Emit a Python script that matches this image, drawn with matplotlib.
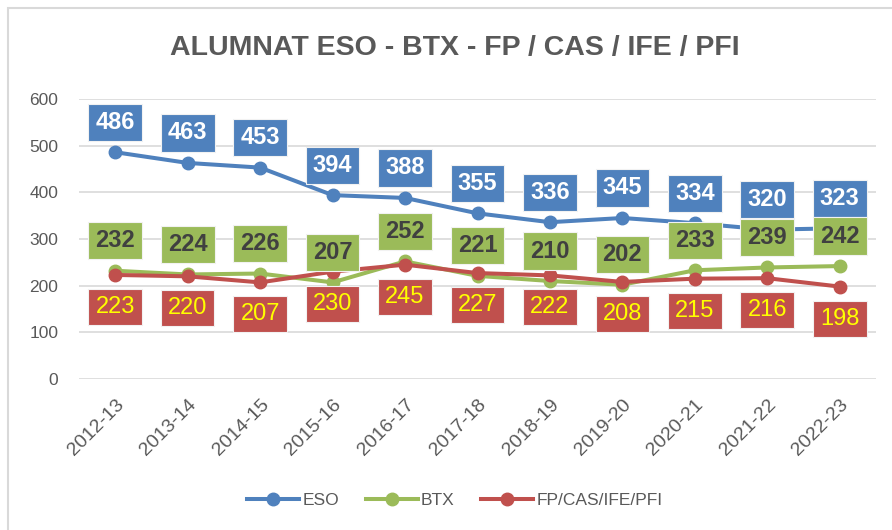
import matplotlib.pyplot as plt
from matplotlib.patches import Rectangle

cursos = ['2012-13', '2013-14', '2014-15', '2015-16', '2016-17', '2017-18',
          '2018-19', '2019-20', '2020-21', '2021-22', '2022-23']
eso = [486, 463, 453, 394, 388, 355, 336, 345, 334, 320, 323]
btx = [232, 224, 226, 207, 252, 221, 210, 202, 233, 239, 242]
fp = [223, 220, 207, 230, 245, 227, 222, 208, 215, 216, 198]
y_ticks = [0, 100, 200, 300, 400, 500, 600]
titol = 'ALUMNAT ESO - BTX - FP / CAS / IFE / PFI'

def main():
    plt.rcParams['font.family'] = ['Liberation Sans', 'DejaVu Sans']
    fig = plt.figure(figsize=(8.92, 5.30), dpi=100)
    ax = fig.add_axes([79 / 892, 1 - 379 / 530, 797 / 892, 280 / 530])

    # marc exterior
    fig.patches.append(Rectangle((8 / 892, -0.05), 1.1, 1 - 8 / 530 + 0.05,
                                 transform=fig.transFigure, fill=False,
                                 edgecolor='#D9D9D9', linewidth=1.5))

    x = list(range(len(cursos)))
    series = [
        ('ESO', eso, '#4F81BD', 30, 'white', 'bold'),
        ('BTX', btx, '#9BBB59', 30, '#404040', 'bold'),
        ('FP/CAS/IFE/PFI', fp, '#C0504D', -32, '#FFFF00', 'normal'),
    ]
    for nom, vals, col, off, tcol, w in series:
        ax.plot(x, vals, '-o', color=col, lw=2.9, ms=9, label=nom, zorder=3)
    for nom, vals, col, off, tcol, w in series:
        for xi, v in zip(x, vals):
            ax.annotate(str(v), (xi, v), xytext=(0, off * 0.72),
                        textcoords='offset points', ha='center', va='center',
                        fontsize=17, color=tcol, fontweight=w, zorder=5,
                        bbox=dict(boxstyle='square,pad=0.3', fc=col,
                                  ec='#F2F2F2', lw=0.8))

    ax.set_xlim(-0.5, 10.5)
    ax.set_ylim(0, 600)
    ax.set_yticks(y_ticks)
    ax.set_xticks(x)
    ax.set_xticklabels(cursos, rotation=45, ha='right', rotation_mode='anchor')
    ax.tick_params(axis='both', length=0, colors='#595959')
    ax.tick_params(axis='y', pad=15, labelsize=12.5)
    ax.tick_params(axis='x', pad=12, labelsize=14)
    ax.grid(axis='y', color='#D9D9D9', lw=1.2)
    ax.set_axisbelow(True)
    for s in ax.spines.values():
        s.set_visible(False)

    fig.text(0.51, 1 - 48 / 530, titol, ha='center', va='center',
             fontsize=20.5, fontweight='bold', color='#595959')

    fig.legend(loc='center', bbox_to_anchor=(0.51, 1 - 500 / 530), ncol=3,
               frameon=False, fontsize=12.5, labelcolor='#595959',
               handlelength=3, handletextpad=0.2, columnspacing=1.5)

    fig.savefig('out.png', dpi=100)

if __name__ == '__main__':
    main()
